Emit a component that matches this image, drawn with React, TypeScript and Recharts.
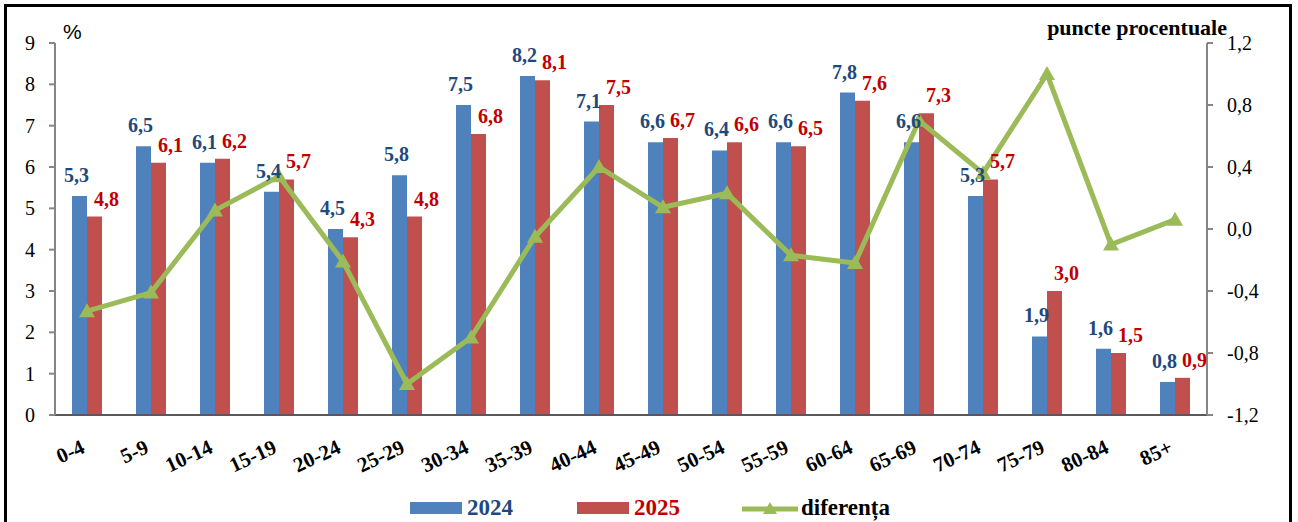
import { ComposedChart, Bar, Line, XAxis, YAxis, LabelList } from "recharts"

const ageGroups = ["0-4", "5-9", "10-14", "15-19", "20-24", "25-29", "30-34", "35-39", "40-44", "45-49", "50-54", "55-59", "60-64", "65-69", "70-74", "75-79", "80-84", "85+"]
const share2024 = [5.3, 6.5, 6.1, 5.4, 4.5, 5.8, 7.5, 8.2, 7.1, 6.6, 6.4, 6.6, 7.8, 6.6, 5.3, 1.9, 1.6, 0.8]
const share2025 = [4.8, 6.1, 6.2, 5.7, 4.3, 4.8, 6.8, 8.1, 7.5, 6.7, 6.6, 6.5, 7.6, 7.3, 5.7, 3.0, 1.5, 0.9]
// percentage points
const difference = [-0.53, -0.41, 0.12, 0.34, -0.21, -1.0, -0.7, -0.05, 0.4, 0.14, 0.23, -0.17, -0.22, 0.7, 0.36, 1.0, -0.1, 0.06]
const leftTicks = [0, 1, 2, 3, 4, 5, 6, 7, 8, 9]
const rightTicks = [-1.2, -0.8, -0.4, 0, 0.4, 0.8, 1.2]

const data = ageGroups.map((name, i) => ({
  name,
  y2024: share2024[i],
  y2025: share2025[i],
  diff: difference[i],
}))

const serif = '"Liberation Serif", "Times New Roman", serif'
const blue = "#4F81BD"
const red = "#C0504D"
const green = "#9BBB59"
const blueText = "#1F497D"
const redText = "#C00000"

const comma = (v: number, digits = 1) => v.toFixed(digits).replace(".", ",")

const makeLabel = (color: string, dx: number, dy: number) => (props: any) => {
  const { x, y, width, value } = props
  return (
    <text x={x + width / 2 + dx} y={y + dy} textAnchor="middle" fill={color} fontFamily={serif} fontWeight="bold" fontSize={20}>
      {comma(Number(value))}
    </text>
  )
}

const AgeTick = (props: any) => {
  const { x, y, payload } = props
  const ax = x - 1
  const ay = y + 35
  return (
    <text x={ax} y={ay} transform={`rotate(-25 ${ax} ${ay})`} textAnchor="end" fontFamily={serif} fontWeight="bold" fontSize={21} fill="#000">
      {payload.value}
    </text>
  )
}

const Triangle = (props: any) => {
  const { cx, cy } = props
  if (cx == null || cy == null) return null
  return <path d={`M${cx},${cy - 8} L${cx + 8},${cy + 6} L${cx - 8},${cy + 6} Z`} fill={green} />
}

export default function App() {
  return (
    <div style={{ position: "absolute", left: 0, top: 0, width: 1298, height: 522, overflow: "hidden", background: "#fff", fontFamily: serif }}>
      <div style={{ position: "absolute", left: 4, top: 4, width: 1282, height: 540, border: "3px solid #000" }} />

      <ComposedChart
        width={1298}
        height={522}
        data={data}
        margin={{ top: 43, right: 21, left: 10, bottom: 47 }}
        barSize={15}
        barGap={0}
        style={{ position: "absolute", left: 0, top: 0 }}
      >
        <XAxis
          dataKey="name"
          height={60}
          interval={0}
          tickLine={false}
          tickSize={0}
          tick={<AgeTick />}
          axisLine={{ stroke: "#595959", strokeWidth: 2 }}
        />
        <YAxis
          yAxisId="left"
          width={45}
          domain={[0, 9]}
          ticks={leftTicks}
          interval={0}
          tickSize={6}
          tickMargin={14}
          axisLine={{ stroke: "#868686", strokeWidth: 2 }}
          tickLine={{ stroke: "#868686", strokeWidth: 2 }}
          tick={{ fill: "#000", fontSize: 20, fontFamily: serif }}
        />
        <YAxis
          yAxisId="right"
          orientation="right"
          width={70}
          domain={[-1.2, 1.2]}
          ticks={rightTicks}
          interval={0}
          tickSize={6}
          tickMargin={14}
          tickFormatter={(v: number) => comma(v)}
          axisLine={{ stroke: "#868686", strokeWidth: 2 }}
          tickLine={{ stroke: "#868686", strokeWidth: 2 }}
          tick={{ fill: "#000", fontSize: 20, fontFamily: serif, textAnchor: "start" }}
        />
        <Bar yAxisId="left" dataKey="y2024" fill={blue} isAnimationActive={false}>
          <LabelList dataKey="y2024" content={makeLabel(blueText, -3, -14)} />
        </Bar>
        <Bar yAxisId="left" dataKey="y2025" fill={red} isAnimationActive={false}>
          <LabelList dataKey="y2025" content={makeLabel(redText, 12, -11)} />
        </Bar>
        <Line
          yAxisId="right"
          type="linear"
          dataKey="diff"
          stroke={green}
          strokeWidth={5}
          dot={<Triangle />}
          activeDot={false}
          isAnimationActive={false}
        />
      </ComposedChart>

      <div style={{ position: "absolute", left: 63, top: 21, fontFamily: '"Liberation Sans", Arial, sans-serif', fontSize: 21, lineHeight: 1 }}>%</div>
      <div style={{ position: "absolute", right: 71, top: 17, fontSize: 22, fontWeight: "bold", lineHeight: 1 }}>puncte procentuale</div>

      <div style={{ position: "absolute", left: 410, top: 496, display: "flex", alignItems: "center", fontSize: 23, fontWeight: "bold", lineHeight: 1 }}>
        <span style={{ width: 52, height: 12, background: blue, display: "inline-block" }} />
        <span style={{ color: blueText, marginLeft: 5 }}>2024</span>
        <span style={{ width: 52, height: 12, background: red, display: "inline-block", marginLeft: 64 }} />
        <span style={{ color: redText, marginLeft: 5 }}>2025</span>
        <svg width={56} height={16} style={{ marginLeft: 62 }}>
          <line x1={0} y1={9} x2={56} y2={9} stroke={green} strokeWidth={5} strokeLinecap="round" />
          <path d="M28,2 L35,14 L21,14 Z" fill={green} />
        </svg>
        <span style={{ color: "#000", marginLeft: 3 }}>diferența</span>
      </div>
    </div>
  )
}
